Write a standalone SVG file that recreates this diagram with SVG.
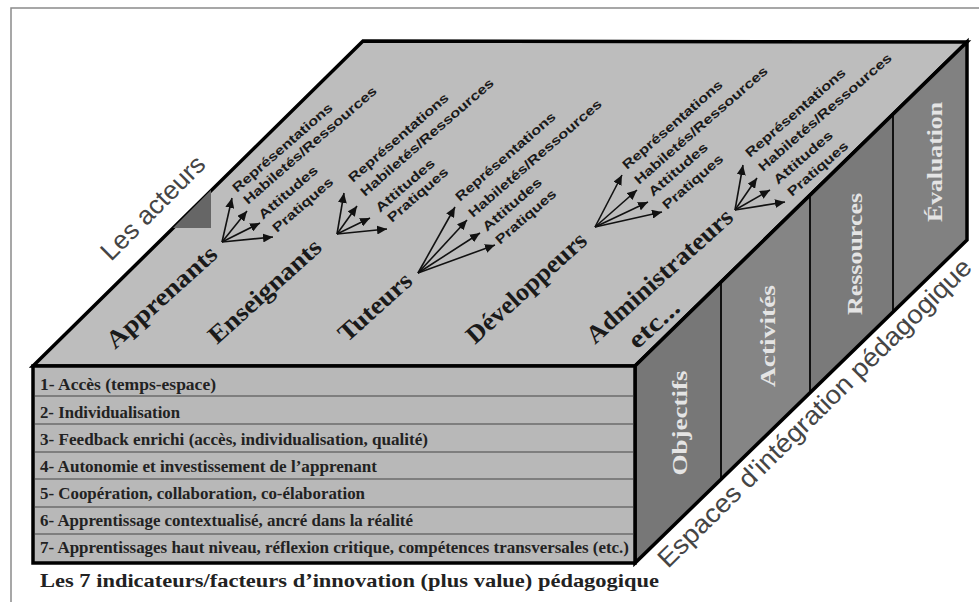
<svg xmlns="http://www.w3.org/2000/svg" width="979" height="602" viewBox="0 0 979 602">
<style>
.actor{font-family:"Liberation Serif","Times New Roman",serif;font-weight:bold;font-size:25px;fill:#1a1a1a}
.lbl{font-family:"Liberation Sans",Arial,sans-serif;font-weight:bold;font-size:13px;fill:#1a1a1a}
.row{font-family:"Liberation Serif","Times New Roman",serif;font-weight:bold;font-size:17px;fill:#222}
.cap{font-family:"Liberation Serif","Times New Roman",serif;font-weight:bold;font-size:19px;fill:#222}
.col{font-family:"Liberation Serif","Times New Roman",serif;font-weight:bold;font-size:22px;fill:#e4e4e4;text-anchor:middle}
.big{font-family:"Liberation Sans",Arial,sans-serif;font-size:26px;fill:#454545}
.arr{stroke:#111;stroke-width:1.6;fill:none;marker-end:url(#ah)}
.edge{stroke:#000;stroke-width:3.5;stroke-linejoin:miter}
.rowline{stroke:#444;stroke-width:1.2}
.div{stroke:#111;stroke-width:2}
</style>
<defs>
<marker id="ah" markerUnits="userSpaceOnUse" markerWidth="11" markerHeight="9" refX="10" refY="4.5" orient="auto">
<path d="M0,0 L10,4.5 L0,9 z" fill="#111"/>
</marker>
</defs>
<rect x="0" y="0" width="979" height="602" fill="#fff"/>
<rect x="11" y="8" width="990" height="620" fill="none" stroke="#8a8a8a" stroke-width="1.5"/>

<g id="top-face">
<polygon points="33,366 363,41 967,42 635,366" fill="#bdbdbd" class="edge"/>
<polygon points="173,228 211,190 211,228" fill="#666"/>
</g>

<g id="right-face">
<polygon points="635,366 721,282 721,479 635,563" fill="#777"/>
<polygon points="721,282 810,195 810,393 721,479" fill="#858585"/>
<polygon points="810,195 893,114 893,312 810,393" fill="#7a7a7a"/>
<polygon points="893,114 967,42 967,240 893,312" fill="#818181"/>
<line x1="721" y1="282" x2="721" y2="479" class="div"/>
<line x1="810" y1="195" x2="810" y2="393" class="div"/>
<line x1="893" y1="114" x2="893" y2="312" class="div"/>
<polygon points="635,366 967,42 967,240 635,563" fill="none" class="edge"/>
<text class="col" transform="translate(687,423) rotate(-90)" textLength="105" lengthAdjust="spacingAndGlyphs">Objectifs</text>
<text class="col" transform="translate(775,336) rotate(-90)" textLength="102" lengthAdjust="spacingAndGlyphs">Activités</text>
<text class="col" transform="translate(862,254) rotate(-90)" textLength="122" lengthAdjust="spacingAndGlyphs">Ressources</text>
<text class="col" transform="translate(942,162) rotate(-90)" textLength="120" lengthAdjust="spacingAndGlyphs">Évaluation</text>
</g>

<g id="front-face">
<rect x="33" y="366" width="602" height="197" fill="#b8b8b8" class="edge"/>
<line x1="35" y1="396" x2="633" y2="396" class="rowline"/>
<line x1="35" y1="424" x2="633" y2="424" class="rowline"/>
<line x1="35" y1="452" x2="633" y2="452" class="rowline"/>
<line x1="35" y1="479" x2="633" y2="479" class="rowline"/>
<line x1="35" y1="507" x2="633" y2="507" class="rowline"/>
<line x1="35" y1="534" x2="633" y2="534" class="rowline"/>
<text class="row" x="40" y="390" textLength="176" lengthAdjust="spacingAndGlyphs">1- Accès (temps-espace)</text>
<text class="row" x="40" y="418" textLength="140" lengthAdjust="spacingAndGlyphs">2- Individualisation</text>
<text class="row" x="40" y="445" textLength="388" lengthAdjust="spacingAndGlyphs">3- Feedback enrichi (accès, individualisation, qualité)</text>
<text class="row" x="40" y="472" textLength="337" lengthAdjust="spacingAndGlyphs">4- Autonomie et investissement de l’apprenant</text>
<text class="row" x="40" y="499" textLength="325" lengthAdjust="spacingAndGlyphs">5- Coopération, collaboration, co-élaboration</text>
<text class="row" x="40" y="526" textLength="373" lengthAdjust="spacingAndGlyphs">6- Apprentissage contextualisé, ancré dans la réalité</text>
<text class="row" x="40" y="553" textLength="589" lengthAdjust="spacingAndGlyphs">7- Apprentissages haut niveau, réflexion critique, compétences transversales (etc.)</text>
</g>

<g id="caption">
<text class="cap" x="40" y="587" textLength="619" lengthAdjust="spacingAndGlyphs">Les 7 indicateurs/facteurs d’innovation (plus value) pédagogique</text>
</g>

<g id="title-acteurs">
<text class="big" transform="translate(111,262) rotate(-45)" textLength="136" lengthAdjust="spacingAndGlyphs">Les acteurs</text>
</g>
<g id="title-espaces">
<text class="big" transform="translate(668,569) rotate(-44.5)" textLength="428" lengthAdjust="spacingAndGlyphs">Espaces d'intégration pédagogique</text>
</g>

<g id="connectors">
<line x1="222" y1="242" x2="232" y2="198" class="arr"/>
<line x1="222" y1="242" x2="247" y2="211" class="arr"/>
<line x1="222" y1="242" x2="260" y2="223" class="arr"/>
<line x1="222" y1="242" x2="273" y2="237" class="arr"/>
<line x1="337" y1="234" x2="344" y2="193" class="arr"/>
<line x1="337" y1="234" x2="357" y2="206" class="arr"/>
<line x1="337" y1="234" x2="370" y2="218" class="arr"/>
<line x1="337" y1="234" x2="387" y2="229" class="arr"/>
<line x1="418" y1="273" x2="455" y2="207" class="arr"/>
<line x1="418" y1="273" x2="467" y2="220" class="arr"/>
<line x1="418" y1="273" x2="480" y2="233" class="arr"/>
<line x1="418" y1="273" x2="495" y2="245" class="arr"/>
<line x1="595" y1="227" x2="622" y2="175" class="arr"/>
<line x1="595" y1="227" x2="637" y2="190" class="arr"/>
<line x1="595" y1="227" x2="648" y2="202" class="arr"/>
<line x1="595" y1="227" x2="662" y2="212" class="arr"/>
<line x1="735" y1="210" x2="743" y2="165" class="arr"/>
<line x1="735" y1="210" x2="757" y2="178" class="arr"/>
<line x1="735" y1="210" x2="770" y2="190" class="arr"/>
<line x1="735" y1="210" x2="785" y2="202" class="arr"/>
</g>

<g id="apprenants">
<text class="actor" transform="translate(115,350) rotate(-42)" textLength="140" lengthAdjust="spacingAndGlyphs">Apprenants</text>
<text class="lbl" transform="translate(237,193) rotate(-41)" textLength="128" lengthAdjust="spacingAndGlyphs">Représentations</text>
<text class="lbl" transform="translate(248,205) rotate(-41)" textLength="172" lengthAdjust="spacingAndGlyphs">Habiletés/Ressources</text>
<text class="lbl" transform="translate(263,220) rotate(-41)" textLength="74" lengthAdjust="spacingAndGlyphs">Attitudes</text>
<text class="lbl" transform="translate(277,233) rotate(-41)" textLength="76" lengthAdjust="spacingAndGlyphs">Pratiques</text>
</g>
<g id="enseignants">
<text class="actor" transform="translate(217,345) rotate(-42)" textLength="143" lengthAdjust="spacingAndGlyphs">Enseignants</text>
<text class="lbl" transform="translate(353,183) rotate(-41)" textLength="128" lengthAdjust="spacingAndGlyphs">Représentations</text>
<text class="lbl" transform="translate(365,197) rotate(-41)" textLength="172" lengthAdjust="spacingAndGlyphs">Habiletés/Ressources</text>
<text class="lbl" transform="translate(380,213) rotate(-41)" textLength="74" lengthAdjust="spacingAndGlyphs">Attitudes</text>
<text class="lbl" transform="translate(392,223) rotate(-41)" textLength="76" lengthAdjust="spacingAndGlyphs">Pratiques</text>
</g>
<g id="tuteurs">
<text class="actor" transform="translate(347,343) rotate(-42)" textLength="90" lengthAdjust="spacingAndGlyphs">Tuteurs</text>
<text class="lbl" transform="translate(460,202) rotate(-41)" textLength="128" lengthAdjust="spacingAndGlyphs">Représentations</text>
<text class="lbl" transform="translate(473,218) rotate(-41)" textLength="172" lengthAdjust="spacingAndGlyphs">Habiletés/Ressources</text>
<text class="lbl" transform="translate(487,232) rotate(-41)" textLength="74" lengthAdjust="spacingAndGlyphs">Attitudes</text>
<text class="lbl" transform="translate(500,245) rotate(-41)" textLength="76" lengthAdjust="spacingAndGlyphs">Pratiques</text>
</g>
<g id="developpeurs">
<text class="actor" transform="translate(475,345) rotate(-42)" textLength="153" lengthAdjust="spacingAndGlyphs">Développeurs</text>
<text class="lbl" transform="translate(627,170) rotate(-41)" textLength="128" lengthAdjust="spacingAndGlyphs">Représentations</text>
<text class="lbl" transform="translate(639,185) rotate(-41)" textLength="172" lengthAdjust="spacingAndGlyphs">Habiletés/Ressources</text>
<text class="lbl" transform="translate(653,197) rotate(-41)" textLength="74" lengthAdjust="spacingAndGlyphs">Attitudes</text>
<text class="lbl" transform="translate(667,210) rotate(-41)" textLength="76" lengthAdjust="spacingAndGlyphs">Pratiques</text>
</g>
<g id="administrateurs">
<text class="actor" transform="translate(595,345) rotate(-42)" textLength="188" lengthAdjust="spacingAndGlyphs">Administrateurs</text>
<text class="lbl" transform="translate(750,158) rotate(-41)" textLength="128" lengthAdjust="spacingAndGlyphs">Représentations</text>
<text class="lbl" transform="translate(763,172) rotate(-41)" textLength="172" lengthAdjust="spacingAndGlyphs">Habiletés/Ressources</text>
<text class="lbl" transform="translate(778,185) rotate(-41)" textLength="74" lengthAdjust="spacingAndGlyphs">Attitudes</text>
<text class="lbl" transform="translate(792,197) rotate(-41)" textLength="76" lengthAdjust="spacingAndGlyphs">Pratiques</text>
</g>
<g id="etc">
<text class="actor" transform="translate(637,350) rotate(-42)" textLength="60" lengthAdjust="spacingAndGlyphs">etc...</text>
</g>
</svg>
